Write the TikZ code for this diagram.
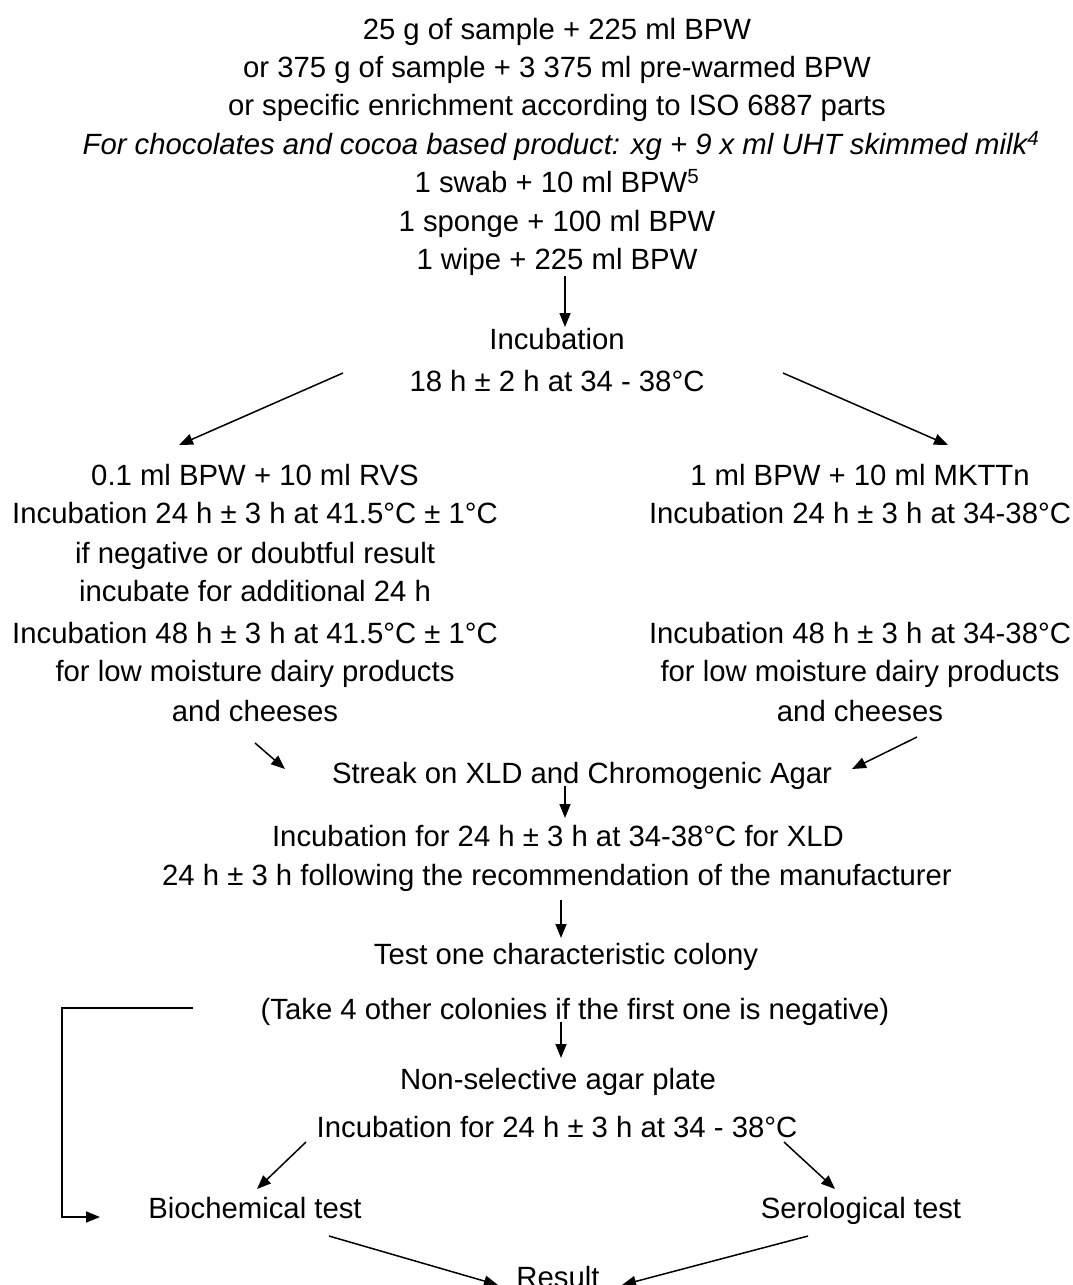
\documentclass[tikz,border=0pt]{standalone}
\usepackage{fontspec}
\setmainfont{Liberation Sans}
\usetikzlibrary{arrows.meta}
\begin{document}
\begin{tikzpicture}[x=1pt,y=-1pt,
  txt/.style={inner sep=0pt, font=\fontsize{29.3}{34}\selectfont, text height=21pt, text depth=6pt},
  conn/.style={line width=1.5pt, -{Triangle[length=14pt,width=11pt]}}]
\useasboundingbox (0,0) rectangle (1073,1285);
% top block
\node[txt] (t1) at (557,31.5) {25 g of sample + 225 ml BPW};
\node[txt] (t2) at (557,69.9) {or 375 g of sample + 3 375 ml pre-warmed BPW};
\node[txt] (t3) at (557,108.3) {or specific enrichment according to ISO 6887 parts};
\node[txt] (t4) at (561,146.7) {\itshape For chocolates and cocoa based product: xg + 9 x ml UHT skimmed milk\textsuperscript{4}};
\node[txt] (t5) at (557,185.1) {1 swab + 10 ml BPW\textsuperscript{5}};
\node[txt] (t6) at (557,223.5) {1 sponge + 100 ml BPW};
\node[txt] (t7) at (557,261.9) {1 wipe + 225 ml BPW};
\node[txt] (inc1) at (557,342) {Incubation};
\node[txt] (inc2) at (557,384) {18 h ± 2 h at 34 - 38°C};
% left branch
\node[txt] (l1) at (255,478) {0.1 ml BPW + 10 ml RVS};
\node[txt] (l2) at (255,516) {Incubation 24 h ± 3 h at 41.5°C ± 1°C};
\node[txt] (l3) at (255,556) {if negative or doubtful result};
\node[txt] (l4) at (255,594) {incubate for additional 24 h};
\node[txt] (l5) at (255,636) {Incubation 48 h ± 3 h at 41.5°C ± 1°C};
\node[txt] (l6) at (255,674) {for low moisture dairy products};
\node[txt] (l7) at (255,714) {and cheeses};
% right branch
\node[txt] (r1) at (860,478) {1 ml BPW + 10 ml MKTTn};
\node[txt] (r2) at (860,516) {Incubation 24 h ± 3 h at 34-38°C};
\node[txt] (r5) at (860,636) {Incubation 48 h ± 3 h at 34-38°C};
\node[txt] (r6) at (860,674) {for low moisture dairy products};
\node[txt] (r7) at (860,714) {and cheeses};
% middle
\node[txt] (streak) at (582,776) {Streak on XLD and Chromogenic Agar};
\node[txt] (xld) at (558,839) {Incubation for 24 h ± 3 h at 34-38°C for XLD};
\node[txt] (manu) at (557,878) {24 h ± 3 h following the recommendation of the manufacturer};
\node[txt] (test) at (566,957) {Test one characteristic colony};
\node[txt] (take) at (575,1012) {(Take 4 other colonies if the first one is negative)};
\node[txt] (nonsel) at (558,1082) {Non-selective agar plate};
\node[txt] (inc3) at (557,1130) {Incubation for 24 h ± 3 h at 34 - 38°C};
\node[txt] (bio) at (255,1211) {Biochemical test};
\node[txt] (sero) at (861,1211) {Serological test};
\node[txt] (result) at (558,1280) {Result};
% connector end points
\coordinate (a1s) at (565,276); \coordinate (a1e) at (565,327);
\coordinate (a2s) at (343,373); \coordinate (a2e) at (179,445);
\coordinate (a3s) at (783,373); \coordinate (a3e) at (948,445);
\coordinate (a4s) at (255,743); \coordinate (a4e) at (285,769);
\coordinate (a5s) at (917,737); \coordinate (a5e) at (852,769);
\coordinate (a6s) at (565,786); \coordinate (a6e) at (565,818);
\coordinate (a7s) at (561,900); \coordinate (a7e) at (561,938);
\coordinate (a8s) at (561,1022); \coordinate (a8e) at (561,1058);
\coordinate (a9s) at (306,1142); \coordinate (a9e) at (257,1189);
\coordinate (a10s) at (784,1142); \coordinate (a10e) at (835,1189);
\coordinate (a11s) at (329,1236); \coordinate (a11e) at (498,1285);
\coordinate (a12s) at (808,1236); \coordinate (a12e) at (622,1285);
\coordinate (lp1) at (193,1008); \coordinate (lp2) at (62,1008);
\coordinate (lp3) at (62,1217); \coordinate (lp4) at (100,1217);
% connectors
\draw[conn] (a1s) -- (a1e);
\draw[conn] (a2s) -- (a2e);
\draw[conn] (a3s) -- (a3e);
\draw[conn] (a4s) -- (a4e);
\draw[conn] (a5s) -- (a5e);
\draw[conn] (a6s) -- (a6e);
\draw[conn] (a7s) -- (a7e);
\draw[conn] (a8s) -- (a8e);
\draw[conn] (a9s) -- (a9e);
\draw[conn] (a10s) -- (a10e);
\draw[conn] (a11s) -- (a11e);
\draw[conn] (a12s) -- (a12e);
\draw[conn] (lp1) -- (lp2) -- (lp3) -- (lp4);
\end{tikzpicture}
\end{document}
